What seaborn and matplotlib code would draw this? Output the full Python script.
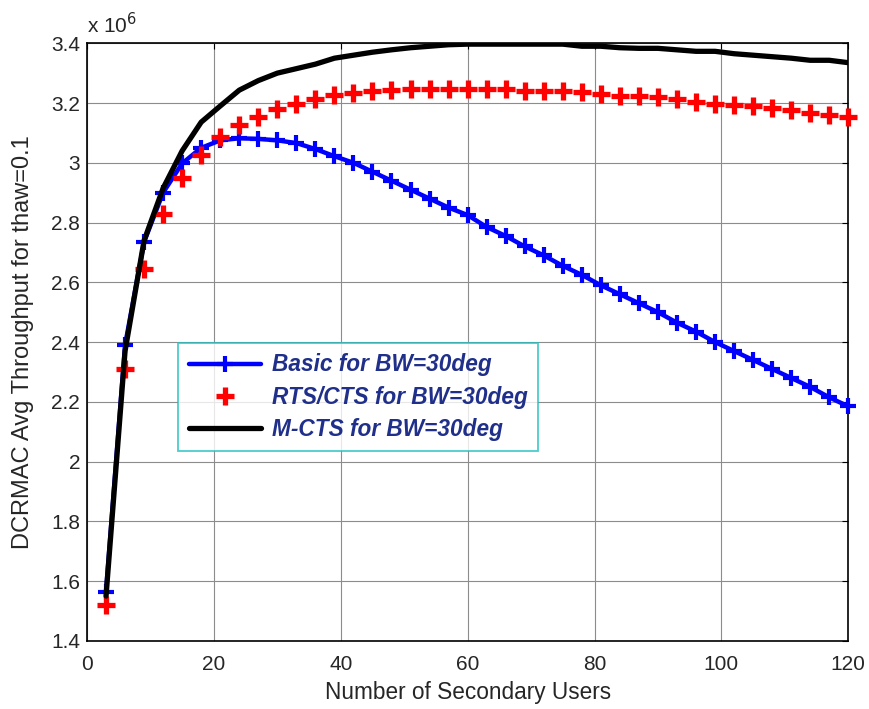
import numpy as np
import pandas as pd
import seaborn as sns
import matplotlib.pyplot as plt

# Number of secondary users (x) and average throughput (in units of 1e6)
users = list(range(3, 121, 3))

basic = [1.565, 2.39, 2.735, 2.90, 2.998, 3.05, 3.075, 3.082, 3.08, 3.075,
         3.066, 3.046, 3.022, 3.00, 2.97, 2.94, 2.91, 2.88, 2.85, 2.825,
         2.785, 2.755, 2.72, 2.69, 2.655, 2.625, 2.59, 2.56, 2.53, 2.50,
         2.465, 2.435, 2.40, 2.37, 2.34, 2.31, 2.28, 2.25, 2.215, 2.185]

rts_cts = [1.52, 2.31, 2.644, 2.83, 2.948, 3.025, 3.085, 3.128, 3.153, 3.18,
           3.196, 3.213, 3.226, 3.233, 3.24, 3.242, 3.246, 3.246, 3.246, 3.246,
           3.246, 3.246, 3.24, 3.24, 3.24, 3.236, 3.23, 3.225, 3.222, 3.22,
           3.212, 3.205, 3.198, 3.195, 3.19, 3.185, 3.175, 3.168, 3.16, 3.153]

m_cts = [1.55, 2.37, 2.74, 2.915, 3.04, 3.136, 3.19, 3.243, 3.275, 3.30,
         3.315, 3.33, 3.35, 3.36, 3.37, 3.378, 3.385, 3.39, 3.395, 3.397,
         3.397, 3.397, 3.397, 3.397, 3.397, 3.39, 3.39, 3.385, 3.383, 3.383,
         3.378, 3.373, 3.373, 3.365, 3.36, 3.355, 3.35, 3.343, 3.343, 3.335]

labels = ["Basic for BW=30deg", "RTS/CTS for BW=30deg", "M-CTS for BW=30deg"]

df = pd.DataFrame({"users": users, "basic": basic, "rts": rts_cts, "mcts": m_cts})

sns.set_style("white")
plt.rcParams['font.family'] = ['Liberation Sans', 'DejaVu Sans']

fig = plt.figure(figsize=(8.7, 7.09), dpi=100)
ax = fig.add_axes([0.1, 0.096, 0.875, 0.843])

sns.lineplot(data=df, x="users", y="basic", ax=ax, color="#0000ff", linewidth=3.2,
             marker="+", markersize=12, markeredgewidth=3,
             markeredgecolor="#0000ff", label=labels[0], clip_on=False, zorder=3)
sns.lineplot(data=df, x="users", y="rts", ax=ax, color="#ff0000", linestyle="none",
             marker="+", markersize=13, markeredgewidth=3.8,
             markeredgecolor="#ff0000", label=labels[1], clip_on=False, zorder=3)
sns.lineplot(data=df, x="users", y="mcts", ax=ax, color="black", linewidth=3.8,
             label=labels[2], zorder=4)

ax.set_xlim(0, 120)
ax.set_ylim(1.4, 3.4)
ax.set_xticks(np.arange(0, 121, 20))
yt = np.round(np.arange(1.4, 3.41, 0.2), 1)
ax.set_yticks(yt)
ax.set_yticklabels([f"{v:g}" for v in yt])
ax.grid(True, color="#8c8c8c", linewidth=0.8)
ax.tick_params(direction="in", top=True, right=True, labelsize=15, length=4,
               color="black")
ax.tick_params(axis="x", pad=10)
ax.tick_params(axis="y", pad=5)
for s in ax.spines.values():
    s.set_color("black")
    s.set_linewidth(1.2)

ax.set_xlabel("Number of Secondary Users", fontsize=16.3, labelpad=5)
ax.set_ylabel("DCRMAC Avg Throughput for thaw=0.1", fontsize=17, labelpad=12)
ax.text(0.0, 1.01, r"x 10$^6$", transform=ax.transAxes, fontsize=15,
        ha="left", va="bottom")

leg = ax.legend(loc="upper left", bbox_to_anchor=(0.12, 0.498), borderaxespad=0,
                frameon=True, fancybox=False, handlelength=3.2, handletextpad=0.5,
                borderpad=0.45, labelspacing=0.4,
                prop={"family": ["Liberation Sans", "DejaVu Sans"], "weight": "bold",
                      "style": "italic", "size": 16.3})
leg.get_frame().set_edgecolor("#20c0c0")
leg.get_frame().set_linewidth(1.3)
for t in leg.get_texts():
    t.set_color("#1f2f8a")

fig.savefig("out.png", dpi=100)
